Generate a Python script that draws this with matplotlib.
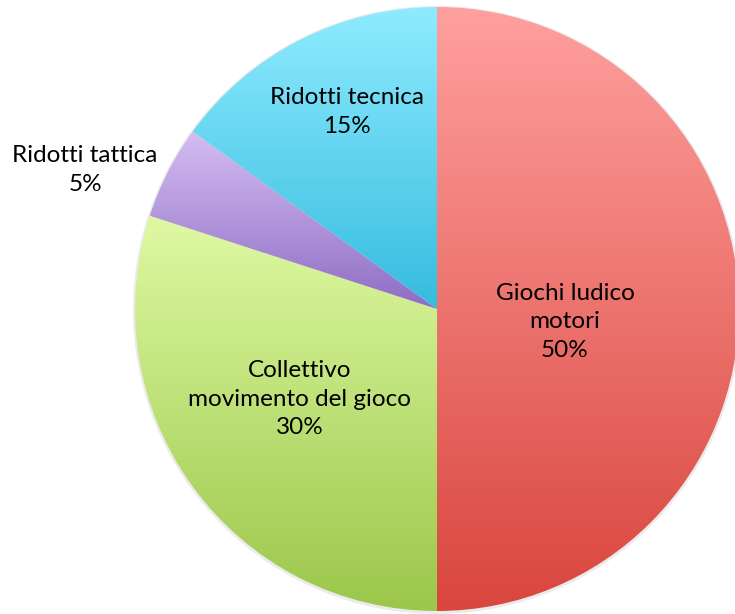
import numpy as np
import matplotlib
matplotlib.use("Agg")
import matplotlib.pyplot as plt
from matplotlib.colors import LinearSegmentedColormap
from matplotlib.patches import Circle

plt.rcParams['font.family'] = ['Lato', 'DejaVu Sans']

categories = ["Giochi ludico\nmotori", "Collettivo\nmovimento del gioco", "Ridotti tattica", "Ridotti tecnica"]
values = [50, 30, 5, 15]
# top / bottom colour of each slice gradient
top_colors = ["#FFA09E", "#DFF9A3", "#D4BDF2", "#8FEBFF"]
bottom_colors = ["#D9463E", "#9BC74A", "#8E6DC4", "#35BCDF"]
label_pos = [(565, 322), (300, 399), (85, 170), (347, 112)]  # pixel coords from top-left

W, H = 735, 614
fig = plt.figure(figsize=(W / 100, H / 100), dpi=100)
ax = fig.add_axes([0, 0, 1, 1])

cx, cy, r = 437, H - 309, 302

# faint shadow
ax.add_patch(Circle((cx, cy - 1), r + 2, color='#000000', alpha=0.08, lw=0))

wedges, _ = ax.pie(values, center=(cx, cy), radius=r, startangle=90,
                   counterclock=False, frame=True,
                   wedgeprops=dict(linewidth=0))

grad = np.linspace(0, 1, 256).reshape(-1, 1)
for w, c1, c2 in zip(wedges, top_colors, bottom_colors):
    w.set_facecolor('none')
    ext = w.get_path().get_extents()
    cmap = LinearSegmentedColormap.from_list('g', [c1, c2])
    im = ax.imshow(grad, cmap=cmap, aspect='auto', origin='upper',
                   extent=[ext.x0, ext.x1, ext.y0, ext.y1], zorder=2)
    im.set_clip_path(w)

for lab, v, (x, y) in zip(categories, values, label_pos):
    ax.text(x, H - y, f"{lab}\n{v}%", ha='center', va='center', fontsize=17.5,
            color='black', linespacing=1.45, zorder=5)

ax.set_xlim(0, W)
ax.set_ylim(0, H)
ax.axis('off')
fig.savefig("out.png", dpi=100)
